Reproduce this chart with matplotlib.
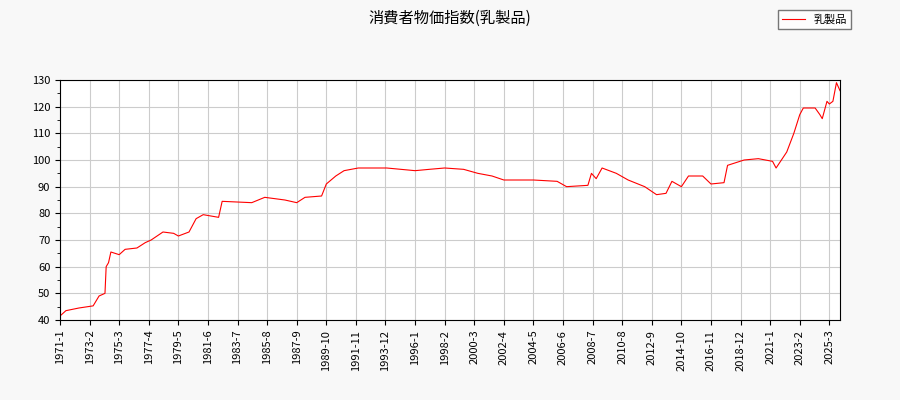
import matplotlib
matplotlib.use("Agg")
import matplotlib.pyplot as plt
from matplotlib.ticker import MultipleLocator

plt.rcParams['font.family'] = ['Noto Sans CJK JP', 'DejaVu Sans']

# key points (year-month, index value)
dates = ["1971-1", "1971-6", "1972-5", "1973-5", "1973-10", "1974-3", "1974-4", "1974-6",
         "1974-8", "1975-3", "1975-8", "1976-6", "1977-1", "1977-6", "1978-4", "1979-1",
         "1979-5", "1980-2", "1980-8", "1981-2", "1982-3", "1982-6", "1984-7", "1985-6",
         "1986-11", "1987-9", "1988-4", "1989-6", "1989-10", "1990-6", "1991-1", "1992-1",
         "1994-1", "1996-1", "1997-1", "1998-2", "1999-6", "2000-6", "2001-6", "2002-4",
         "2004-5", "2006-1", "2006-9", "2008-3", "2008-6", "2008-10", "2009-3", "2010-3",
         "2011-1", "2012-3", "2013-1", "2013-9", "2014-2", "2014-10", "2015-4", "2016-4",
         "2016-11", "2017-10", "2018-1", "2019-3", "2020-3", "2021-3", "2021-6", "2022-3",
         "2022-9", "2023-2", "2023-5", "2024-3", "2024-7", "2024-9", "2025-1", "2025-3",
         "2025-6", "2025-9", "2025-12"]
values = [41.5, 43.5, 44.5, 45.3, 49, 50, 60, 61.5,
          65.5, 64.5, 66.5, 67, 69, 70, 73, 72.5,
          71.5, 73, 78, 79.5, 78.5, 84.5, 84, 86,
          85, 84, 86, 86.5, 91, 94, 96, 97,
          97, 96, 96.5, 97, 96.5, 95, 94, 92.5,
          92.5, 92, 90, 90.5, 95, 93, 97, 95,
          92.5, 90, 87, 87.5, 92, 90, 94, 94,
          91, 91.5, 98, 100, 100.5, 99.5, 97, 103,
          110, 117, 119.5, 119.5, 117, 115.5, 122, 121,
          122, 129, 126]


def month_index(s):
    y, m = s.split("-")
    return (int(y) - 1971) * 12 + int(m) - 1


x = [month_index(d) for d in dates]
tick_idx = list(range(0, 660, 25))
tick_labels = [f"{1971 + i // 12}-{i % 12 + 1}" for i in tick_idx]

fig = plt.figure(figsize=(9, 4), dpi=100, facecolor="#f8f8f8")
ax = fig.add_axes([60 / 900, 80 / 400, 780 / 900, 240 / 400])
ax.plot(x, values, color="red", lw=0.8, label="乳製品")
ax.set_xlim(0, x[-1])
ax.set_ylim(40, 130)
ax.set_xticks(tick_idx)
ax.set_xticklabels(tick_labels, rotation=90, fontsize=8)
ax.yaxis.set_major_locator(MultipleLocator(10))
ax.yaxis.set_minor_locator(MultipleLocator(5))
ax.tick_params(axis="y", labelsize=8)
ax.grid(True, color="#cccccc", lw=0.8)
fig.suptitle("消費者物価指数(乳製品)", y=0.975, fontsize=11)
fig.legend(loc="upper right", bbox_to_anchor=(0.952, 0.99), fontsize=8,
           fancybox=False, edgecolor="#555555")
fig.savefig("out.png", facecolor=fig.get_facecolor())
